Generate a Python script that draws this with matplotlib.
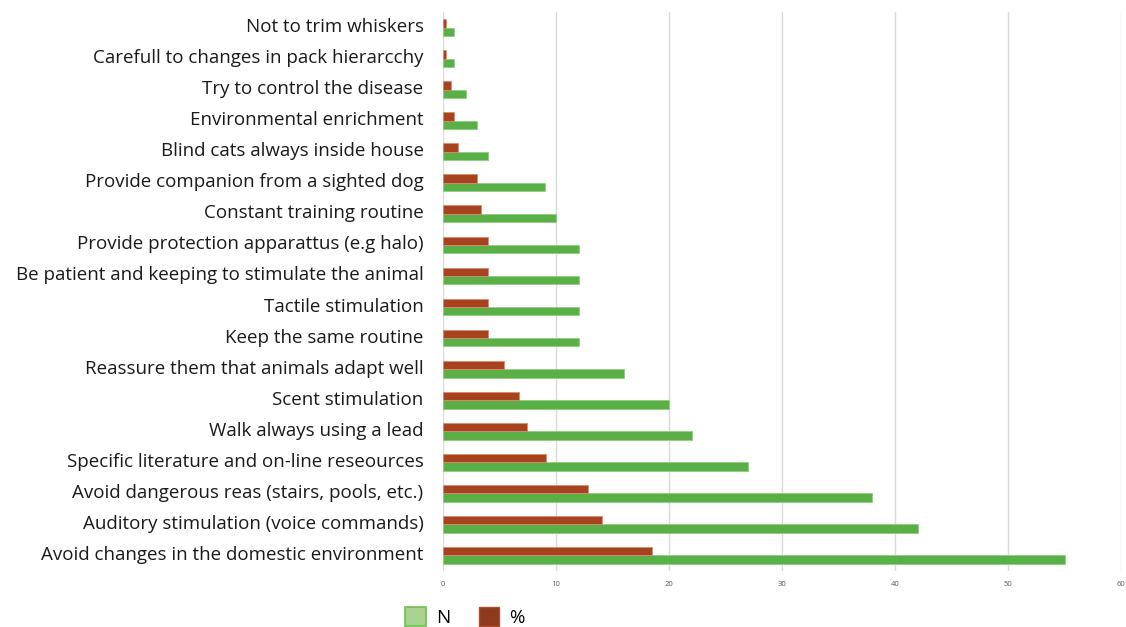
import matplotlib
matplotlib.use("Agg")
import matplotlib.pyplot as plt
from matplotlib.patches import Patch
import numpy as np

categories = [
    "Not to trim whiskers",
    "Carefull to changes in pack hierarcchy",
    "Try to control the disease",
    "Environmental enrichment",
    "Blind cats always inside house",
    "Provide companion from a sighted dog",
    "Constant training routine",
    "Provide protection apparattus (e.g halo)",
    "Be patient and keeping to stimulate the animal",
    "Tactile stimulation",
    "Keep the same routine",
    "Reassure them that animals adapt well",
    "Scent stimulation",
    "Walk always using a lead",
    "Specific literature and on-line reseources",
    "Avoid dangerous reas (stairs, pools, etc.)",
    "Auditory stimulation (voice commands)",
    "Avoid changes in the domestic environment",
]
n_values = [1, 1, 2, 3, 4, 9, 10, 12, 12, 12, 12, 16, 20, 22, 27, 38, 42, 55]
pct_values = [0.3, 0.3, 0.7, 1.0, 1.3, 3.0, 3.4, 4.0, 4.0, 4.0, 4.0, 5.4,
              6.7, 7.4, 9.1, 12.8, 14.1, 18.5]
x_ticks = [0, 10, 20, 30, 40, 50, 60]

GREEN = "#5AAF46"
RED = "#A7441F"

plt.rcParams["font.family"] = ["Open Sans", "DejaVu Sans"]

fig = plt.figure(figsize=(11.26, 6.27), dpi=100)
ax = fig.add_axes([443 / 1126, 56 / 627, 678 / 1126, 559 / 627])

y = np.arange(len(categories))
h = 0.27
ax.barh(y + h / 2, n_values, height=h, color=GREEN, edgecolor="#8fd07e",
        linewidth=0.6, zorder=3)
ax.barh(y - h / 2, pct_values, height=h, color=RED, edgecolor="#d98b6e",
        linewidth=0.6, zorder=3)

ax.set_xlim(0, 60)
ax.set_ylim(len(categories) - 0.5, -0.5)
ax.set_xticks(x_ticks)
ax.set_xticklabels([str(t) for t in x_ticks], fontsize=5.5, color="#595959")
ax.set_yticks(y - 0.08)
ax.set_yticklabels(categories, fontsize=13.5, color="#1a1a1a")
ax.tick_params(axis="both", length=0)
ax.tick_params(axis="y", pad=14)
ax.tick_params(axis="x", pad=7)
ax.grid(axis="x", color="#d9d9d9", linewidth=1.0, zorder=0)
for s in ax.spines.values():
    s.set_visible(False)

handles = [
    Patch(facecolor="#A8D48F", edgecolor="#6CC04F", linewidth=1.2, label="N"),
    Patch(facecolor="#8E3A1C", edgecolor="#a8502f", linewidth=1.0, label="%"),
]
fig.legend(handles=handles, loc="center", bbox_to_anchor=(465 / 1126, 1 - 617 / 627),
           ncol=2, frameon=False, fontsize=13.5, handlelength=1.1,
           handleheight=1.2, columnspacing=1.5, handletextpad=0.55)

fig.savefig("out.png", dpi=100)
